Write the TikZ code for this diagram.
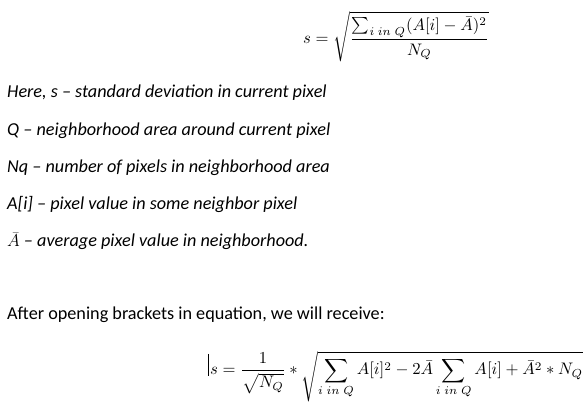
\documentclass[tikz,border=0pt]{standalone}
\usepackage{amsmath}
\usepackage[no-math]{fontspec}
\setmainfont{Carlito}
\newcommand{\eqscale}[2]{\scalebox{#1}{\fontsize{10}{12}\selectfont #2}}
\begin{document}
\begin{tikzpicture}[x=1pt,y=-1pt,
  txt/.style={anchor=base west,inner sep=0pt,font=\fontsize{18.2}{21}\selectfont\itshape},
  txtup/.style={anchor=base west,inner sep=0pt,font=\fontsize{18.2}{21}\selectfont},
  eq/.style={anchor=base west,inner sep=0pt}]
\useasboundingbox (0,0) rectangle (587,411);
\node[eq] (eqtop) at (303,44) {\eqscale{1.667}{$\displaystyle s=\sqrt{\frac{\sum_{i\ in\ Q}(A[i]-\bar{A})^2}{N_Q}}$}};
\node[txt] (l1) at (7,98) {Here, s -- standard deviation in current pixel};
\node[txt] (l2) at (7,136) {Q -- neighborhood area around current pixel};
\node[txt] (l3) at (7,173) {Nq -- number of pixels in neighborhood area};
\node[txt] (l4) at (7,210) {A[i] -- pixel value in some neighbor pixel};
\node[txt] (l5) at (7,247) {$\bar{A}$ -- average pixel value in neighborhood.};
\node[txtup] (l6) at (7,320) {After opening brackets in equation, we will receive:};
\node[eq] (eqbot) at (210,375) {\eqscale{1.67}{$\displaystyle s=\frac{1}{\sqrt{N_Q}}*\sqrt{\sum_{i\ in\ Q}A[i]^2-2\bar{A}\sum_{i\ in\ Q}A[i]+\bar{A}^2*N_Q}$}};
\coordinate (c1) at (208,354);
\coordinate (c2) at (208,376);
\draw[line width=0.8pt] (c1) -- (c2);
\end{tikzpicture}
\end{document}
